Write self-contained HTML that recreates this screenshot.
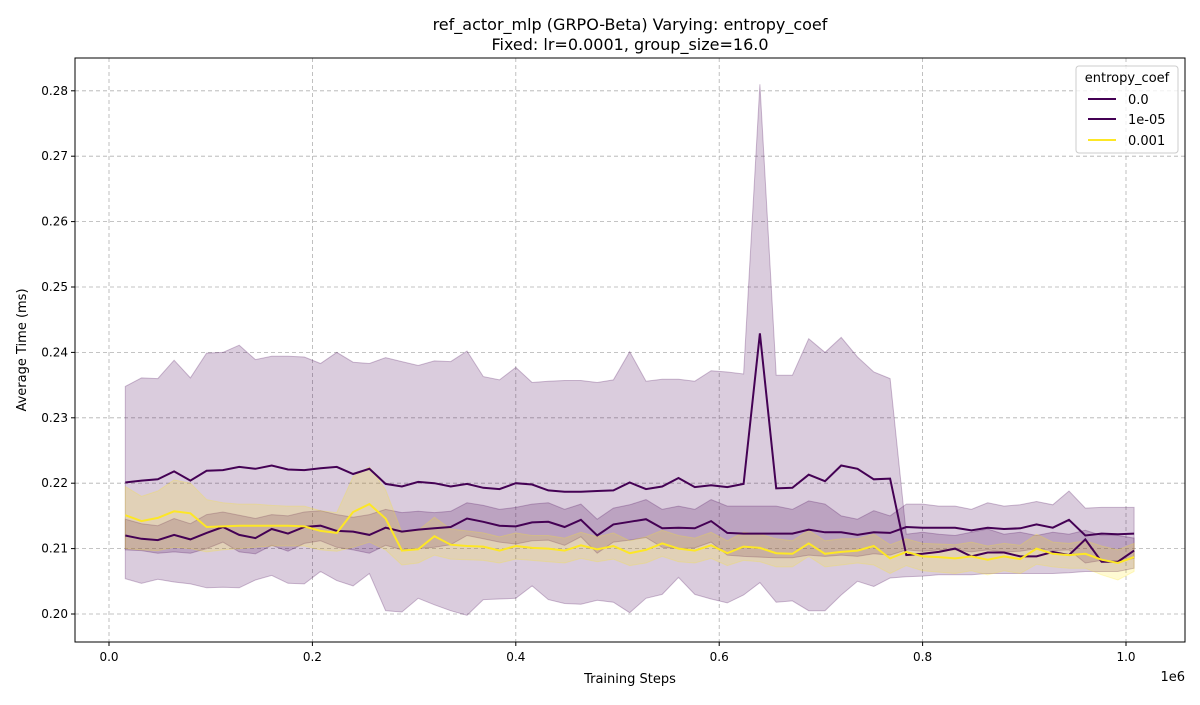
<!DOCTYPE html>
<html><head><meta charset="utf-8">
<style>
body{margin:0;background:#fff;font-family:"Liberation Sans","DejaVu Sans",sans-serif;}
svg text{font-family:"DejaVu Sans","Liberation Sans",sans-serif;}
</style></head>
<body>
<svg id="chart" width="1200" height="700" xmlns="http://www.w3.org/2000/svg">
<rect width="1200" height="700" fill="#fff"/>
<g id="grid"></g>
<g id="bands"></g>
<g id="lines"></g>
<rect x="75" y="58" width="1110" height="584" fill="none" stroke="#000" stroke-width="1"/>
<g id="axes"></g>
<text x="630" y="30" text-anchor="middle" font-size="16">ref_actor_mlp (GRPO-Beta) Varying: entropy_coef</text>
<text x="630" y="50" text-anchor="middle" font-size="16">Fixed: lr=0.0001, group_size=16.0</text>
<text x="630" y="683" text-anchor="middle" font-size="13">Training Steps</text>
<text x="1185" y="681" text-anchor="end" font-size="13">1e6</text>
<text transform="translate(26,350) rotate(-90)" text-anchor="middle" font-size="13">Average Time (ms)</text>
<g>
<rect x="1076" y="66" width="102" height="87" rx="3" fill="#fff" fill-opacity="0.8" stroke="#ccc"/>
<text x="1127" y="82" text-anchor="middle" font-size="13">entropy_coef</text>
<line x1="1088" y1="99" x2="1116" y2="99" stroke="#440154" stroke-width="2"/>
<text x="1128" y="104" font-size="13">0.0</text>
<line x1="1088" y1="119" x2="1116" y2="119" stroke="#440154" stroke-width="2"/>
<text x="1128" y="124" font-size="13">1e-05</text>
<line x1="1088" y1="140" x2="1116" y2="140" stroke="#fde725" stroke-width="2"/>
<text x="1128" y="145" font-size="13">0.001</text>
</g>
</svg>
<script>
const xTicks=[0,0.2,0.4,0.6,0.8,1.0];
const xTickLabels=["0.0","0.2","0.4","0.6","0.8","1.0"];
const yTicks=[0.20,0.21,0.22,0.23,0.24,0.25,0.26,0.27,0.28];
const yTickLabels=["0.20","0.21","0.22","0.23","0.24","0.25","0.26","0.27","0.28"];
const stepStart=16000, stepSize=16000;
const meanA=[0.2201,0.2204,0.2206,0.2218,0.2204,0.2219,0.2220,0.2225,0.2222,0.2227,
0.2221,0.2220,0.2223,0.2225,0.2214,0.2222,0.2199,0.2195,0.2202,0.2200,
0.2195,0.2199,0.2193,0.2191,0.2200,0.2198,0.2189,0.2187,0.2187,0.2188,
0.2189,0.2201,0.2191,0.2195,0.2208,0.2194,0.2197,0.2194,0.2199,0.2429,
0.2192,0.2193,0.2213,0.2203,0.2227,0.2222,0.2206,0.2207,0.2090,0.2092,
0.2095,0.2100,0.2088,0.2094,0.2094,0.2088,0.2088,0.2095,0.2090,0.2114,
0.2080,0.2080,0.2097];
const upperA=[0.2348,0.2361,0.2360,0.2388,0.2361,0.2399,0.2400,0.2411,0.2389,0.2394,
0.2394,0.2393,0.2383,0.2400,0.2385,0.2383,0.2392,0.2386,0.2380,0.2387,
0.2386,0.2402,0.2363,0.2358,0.2377,0.2354,0.2356,0.2357,0.2357,0.2354,
0.2358,0.2401,0.2356,0.2359,0.2359,0.2356,0.2372,0.2370,0.2367,0.2810,
0.2365,0.2365,0.2421,0.2400,0.2423,0.2393,0.2370,0.2360,0.2122,0.2125,
0.2122,0.2120,0.2125,0.2130,0.2122,0.2125,0.2120,0.2125,0.2122,0.2128,
0.2120,0.2120,0.2116];
const lowerA=[0.2054,0.2047,0.2053,0.2049,0.2046,0.2040,0.2041,0.2040,0.2052,0.2059,
0.2047,0.2046,0.2065,0.2051,0.2043,0.2062,0.2005,0.2003,0.2024,0.2014,
0.2005,0.1998,0.2022,0.2023,0.2024,0.2043,0.2022,0.2016,0.2015,0.2021,
0.2018,0.2002,0.2024,0.2030,0.2056,0.2030,0.2023,0.2017,0.2029,0.2048,
0.2018,0.2020,0.2005,0.2005,0.2029,0.2050,0.2042,0.2055,0.2057,0.2058,
0.2060,0.2060,0.2060,0.2062,0.2062,0.2062,0.2062,0.2062,0.2063,0.2065,
0.2065,0.2065,0.2070];
const meanB=[0.2120,0.2115,0.2113,0.2121,0.2114,0.2124,0.2133,0.2121,0.2116,0.2130,
0.2123,0.2133,0.2135,0.2127,0.2126,0.2121,0.2132,0.2126,0.2129,0.2131,
0.2133,0.2146,0.2141,0.2135,0.2134,0.2140,0.2141,0.2133,0.2144,0.2120,
0.2137,0.2141,0.2145,0.2131,0.2132,0.2131,0.2142,0.2124,0.2123,0.2123,
0.2123,0.2123,0.2129,0.2125,0.2125,0.2121,0.2125,0.2124,0.2133,0.2132,
0.2132,0.2132,0.2128,0.2132,0.2130,0.2131,0.2137,0.2132,0.2144,0.2120,
0.2123,0.2122,0.2123];
const upperB=[0.2145,0.2138,0.2135,0.2146,0.2138,0.2152,0.2156,0.2151,0.2146,0.2152,
0.2150,0.2156,0.2158,0.2152,0.2148,0.2152,0.2160,0.2155,0.2157,0.2155,
0.2157,0.2170,0.2166,0.2160,0.2163,0.2168,0.2170,0.2160,0.2168,0.2145,
0.2162,0.2167,0.2175,0.2160,0.2165,0.2160,0.2175,0.2165,0.2165,0.2165,
0.2165,0.2160,0.2173,0.2168,0.2150,0.2145,0.2158,0.2150,0.2168,0.2168,
0.2165,0.2165,0.2160,0.2170,0.2165,0.2167,0.2172,0.2167,0.2188,0.2162,
0.2163,0.2163,0.2163];
const lowerB=[0.2098,0.2097,0.2093,0.2095,0.2093,0.2100,0.2110,0.2095,0.2092,0.2105,
0.2096,0.2108,0.2112,0.2102,0.2098,0.2093,0.2105,0.2098,0.2100,0.2102,
0.2106,0.2120,0.2115,0.2110,0.2107,0.2112,0.2113,0.2105,0.2118,0.2093,
0.2110,0.2113,0.2117,0.2102,0.2100,0.2101,0.2110,0.2090,0.2088,0.2087,
0.2086,0.2086,0.2090,0.2088,0.2090,0.2088,0.2092,0.2090,0.2098,0.2096,
0.2098,0.2098,0.2095,0.2098,0.2095,0.2096,0.2100,0.2097,0.2098,0.2078,
0.2082,0.2080,0.2085];
const meanC=[0.2151,0.2142,0.2147,0.2157,0.2154,0.2133,0.2134,0.2135,0.2135,0.2135,
0.2135,0.2134,0.2127,0.2124,0.2156,0.2168,0.2146,0.2097,0.2099,0.2119,
0.2106,0.2104,0.2103,0.2097,0.2104,0.2101,0.2100,0.2097,0.2105,0.2099,
0.2104,0.2093,0.2098,0.2108,0.2100,0.2097,0.2105,0.2093,0.2103,0.2101,
0.2093,0.2092,0.2108,0.2092,0.2095,0.2097,0.2104,0.2085,0.2095,0.2088,
0.2087,0.2085,0.2088,0.2083,0.2088,0.2084,0.2100,0.2092,0.2090,0.2092,
0.2083,0.2078,0.2087];
const upperC=[0.2195,0.2180,0.2188,0.2205,0.2200,0.2175,0.2170,0.2168,0.2168,0.2166,
0.2165,0.2165,0.2158,0.2155,0.2210,0.2225,0.2190,0.2125,0.2128,0.2148,
0.2130,0.2127,0.2124,0.2118,0.2124,0.2120,0.2120,0.2116,0.2125,0.2118,
0.2124,0.2112,0.2118,0.2128,0.2120,0.2116,0.2125,0.2112,0.2125,0.2122,
0.2115,0.2112,0.2128,0.2112,0.2115,0.2115,0.2122,0.2106,0.2115,0.2108,
0.2107,0.2106,0.2110,0.2104,0.2108,0.2105,0.2122,0.2110,0.2108,0.2112,
0.2104,0.2098,0.2108];
const lowerC=[0.2100,0.2098,0.2097,0.2102,0.2100,0.2095,0.2098,0.2100,0.2102,0.2104,
0.2104,0.2104,0.2098,0.2096,0.2102,0.2110,0.2098,0.2075,0.2078,0.2090,
0.2084,0.2083,0.2082,0.2078,0.2084,0.2082,0.2080,0.2078,0.2085,0.2080,
0.2084,0.2074,0.2078,0.2088,0.2080,0.2078,0.2085,0.2074,0.2082,0.2080,
0.2072,0.2072,0.2088,0.2072,0.2075,0.2078,0.2075,0.2062,0.2074,0.2066,
0.2064,0.2062,0.2066,0.2060,0.2066,0.2062,0.2076,0.2072,0.2070,0.2070,
0.2060,0.2052,0.2065];

const NS='http://www.w3.org/2000/svg';
const X0=75,X1=1185,Y0=58,Y1=642;
function xs(v){return 109+(v/1e6)*1017;}
function ys(v){return 614-(v-0.20)*6540;}
function mk(tag,attrs,parent){const e=document.createElementNS(NS,tag);for(const k in attrs)e.setAttribute(k,attrs[k]);parent.appendChild(e);return e;}
const grid=document.getElementById('grid'),axes=document.getElementById('axes');
xTicks.forEach((t,i)=>{const x=xs(t*1e6);
 const g=mk('line',{x1:x,x2:x,y1:Y0,y2:Y1,stroke:'#b0b0b0','stroke-dasharray':'4,3','stroke-width':0.8},grid);
 
 
 const tk=mk('line',{x1:x,x2:x,y1:Y1,y2:Y1+4,stroke:'#000'},axes);
 
 
 const tx=mk('text',{x:x,y:Y1+19,'text-anchor':'middle','font-size':12},axes);tx.textContent=xTickLabels[i];
 
 
});
yTicks.forEach((t,i)=>{const y=ys(t);
 const g=mk('line',{x1:X0,x2:X1,y1:y,y2:y,stroke:'#b0b0b0','stroke-dasharray':'4,3','stroke-width':0.8},grid);
 
 
 const tk=mk('line',{x1:X0-4,x2:X0,y1:y,y2:y,stroke:'#000'},axes);
 
 
 const tx=mk('text',{x:X0-7,y:y+4,'text-anchor':'end','font-size':12},axes);tx.textContent=yTickLabels[i];
 
 
});
const series=[
 {name:'0.0',m:meanA,u:upperA,l:lowerA,c:'#440154'},
 {name:'1e-05',m:meanB,u:upperB,l:lowerB,c:'#440154'},
 {name:'0.001',m:meanC,u:upperC,l:lowerC,c:'#fde725'}];
const bands=document.getElementById('bands'),lines=document.getElementById('lines');
series.forEach(s=>{
 const px=s.m.map((_,i)=>xs(stepStart+i*stepSize));
 let d='M'+px.map((x,i)=>x.toFixed(1)+','+ys(s.u[i]).toFixed(1)).join('L');
 for(let i=px.length-1;i>=0;i--)d+='L'+px[i].toFixed(1)+','+ys(s.l[i]).toFixed(1);
 d+='Z';
 const b=mk('path',{d:d,fill:s.c,'fill-opacity':0.2,stroke:s.c,'stroke-opacity':0.25},bands);
 
 
 const l=mk('polyline',{points:px.map((x,i)=>x.toFixed(1)+','+ys(s.m[i]).toFixed(1)).join(' '),fill:'none',stroke:s.c,'stroke-width':2},lines);
 
 
});
</script>
</body></html>
